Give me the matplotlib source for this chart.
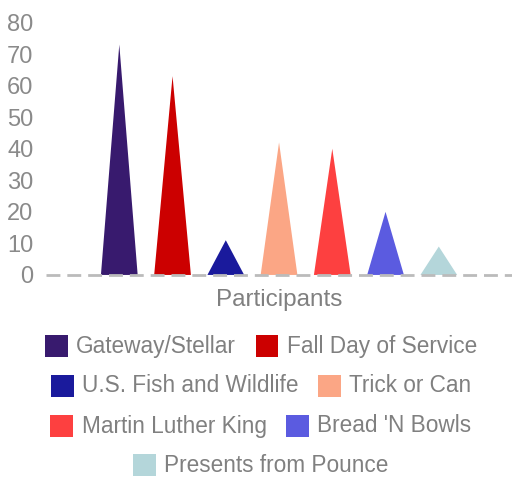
import numpy as np
import matplotlib
matplotlib.use("Agg")
import matplotlib.pyplot as plt
from matplotlib.patches import Rectangle
from matplotlib.offsetbox import (DrawingArea, TextArea, HPacker,
                                  AnchoredOffsetbox)

# data
category = "Participants"
series = ["Gateway/Stellar", "Fall Day of Service", "U.S. Fish and Wildlife",
          "Trick or Can", "Martin Luther King", "Bread 'N Bowls",
          "Presents from Pounce"]
values = [73, 63, 11, 42, 40, 20, 9]
colors = ["#381a6e", "#cc0000", "#1a1a9c", "#fba685", "#fd4040",
          "#5b5be0", "#b4d6da"]
yticks = [0, 10, 20, 30, 40, 50, 60, 70, 80]

plt.rcParams['font.family'] = ['Liberation Sans', 'DejaVu Sans']

fig = plt.figure(figsize=(5.12, 4.79), dpi=100)
ax = fig.add_axes([0.09, 0.426, 0.91, 0.527])

n = len(series)
group = 0.8
slot = group / n
half = slot * 0.69 / 2
for i, (v, c) in enumerate(zip(values, colors)):
    xc = -group / 2 + slot * (i + 0.5)
    ax.fill([xc - half, xc, xc + half], [0, v, 0], color=c, lw=0)

ax.set_xlim(-0.5, 0.5)
ax.set_ylim(0, 80)
ax.set_yticks(yticks)
ax.set_xticks([0])
ax.set_xticklabels([category])
ax.tick_params(axis='y', length=0, pad=9, labelsize=17, labelcolor="#8a8a8a")
ax.tick_params(axis='x', length=0, pad=10, labelsize=17.5, labelcolor="#808080")
for s in ax.spines.values():
    s.set_visible(False)
ax.axhline(0, color="#bbbbbb", lw=2, ls=(0, (5, 2.5)), clip_on=False)

# legend, rows centered like a flow layout
rows = [[0, 1], [2, 3], [4, 5], [6]]
row_y = [346, 386, 426, 465]
sw = 16.5
for r, yy in zip(rows, row_y):
    items = []
    for k in r:
        da = DrawingArea(sw, sw, 0, 0)
        da.add_artist(Rectangle((0, 0), sw, sw, fc=colors[k], ec="none"))
        ta = TextArea(series[k], textprops=dict(color="#808080", size=16.3))
        items.append(HPacker(children=[da, ta], sep=6, pad=0, align="center"))
    row = HPacker(children=items, sep=14, pad=0, align="center")
    ab = AnchoredOffsetbox(loc="center", child=row, frameon=False,
                           bbox_to_anchor=(261 / 512, 1 - yy / 479),
                           bbox_transform=fig.transFigure, pad=0, borderpad=0)
    fig.add_artist(ab)

fig.savefig("out.png", dpi=100)
